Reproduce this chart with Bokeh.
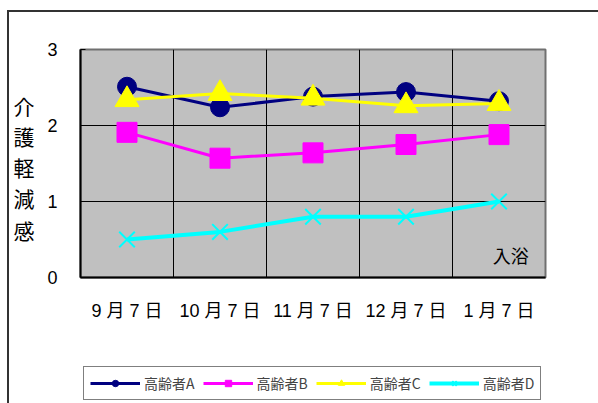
from bokeh.plotting import figure
from bokeh.embed import file_html
from bokeh.resources import INLINE
from bokeh.layouts import column
from bokeh.models import (Range1d, FixedTicker, Legend, LegendItem, Label,
                          ColumnDataSource, InlineStyleSheet, LinearAxis)

categories = ["9 月 7 日", "10 月 7 日", "11 月 7 日", "12 月 7 日", "1 月 7 日"]
series_names = ["高齢者A", "高齢者B", "高齢者C", "高齢者D"]
vals_a = [2.51, 2.24, 2.38, 2.44, 2.32]
vals_b = [1.91, 1.57, 1.64, 1.75, 1.88]
vals_c = [2.34, 2.42, 2.36, 2.26, 2.29]
vals_d = [0.5, 0.6, 0.8, 0.8, 1.0]
y_ticks = [0, 1, 2, 3]
y_title = "介護軽減感"
note = "入浴"

CJK = "Noto Sans CJK JP"
MIX = "Liberation Sans, Noto Sans CJK JP"
xs = [i + 0.5 for i in range(len(categories))]

p = figure(width=598, height=360, frame_width=465, frame_height=228,
           output_backend="svg", toolbar_location=None,
           x_range=Range1d(0, len(categories)), y_range=Range1d(0, 3),
           min_border_left=80, min_border_right=53, min_border_top=49,
           min_border_bottom=83)
p.background_fill_color = "#C0C0C0"
p.border_fill_color = "white"
p.outline_line_color = "#707070"
p.outline_line_width = 2

# axes
p.xaxis.ticker = FixedTicker(ticks=xs)
p.xaxis.major_label_overrides = {x: c for x, c in zip(xs, categories)}
p.xaxis.major_tick_line_color = None
p.xaxis.major_tick_out = 0
p.xaxis.major_tick_in = 0
p.xaxis.minor_tick_line_color = None
p.xaxis.axis_line_color = "black"
p.xaxis.axis_line_width = 2
p.xaxis.major_label_standoff = 23
p.xaxis.major_label_text_font = MIX
p.xaxis.major_label_text_font_size = "18px"
p.xaxis.major_label_text_color = "black"

p.yaxis.ticker = FixedTicker(ticks=y_ticks)
p.yaxis.major_tick_line_color = "black"
p.yaxis.major_tick_in = 5
p.yaxis.major_tick_out = 0
p.yaxis.minor_tick_line_color = None
p.yaxis.axis_line_color = "black"
p.yaxis.axis_line_width = 2
p.yaxis.major_label_standoff = 23
p.yaxis.major_label_text_font = MIX
p.yaxis.major_label_text_font_size = "18px"
p.yaxis.major_label_text_color = "black"

# y-axis title written vertically, one upright character per line
title_pos = [2.26, 1.86, 1.45, 1.04, 0.62]
title_axis = LinearAxis(ticker=FixedTicker(ticks=title_pos),
                        major_label_overrides={t: ch for t, ch in zip(title_pos, y_title)},
                        axis_line_color=None, major_tick_line_color=None,
                        minor_tick_line_color=None, major_tick_in=0, major_tick_out=0,
                        major_label_standoff=10, major_label_text_font=CJK,
                        major_label_text_font_size="21px",
                        major_label_text_color="black")
p.add_layout(title_axis, "left")

p.xgrid.ticker = FixedTicker(ticks=list(range(1, len(categories))))
p.xgrid.grid_line_color = "black"
p.xgrid.grid_line_width = 1
p.ygrid.ticker = FixedTicker(ticks=y_ticks)
p.ygrid.grid_line_color = "black"
p.ygrid.grid_line_width = 1

specs = [
    (vals_a, "#000080", "circle", 19, 3),
    (vals_b, "#FF00FF", "square", 20, 3),
    (vals_c, "#FFFF00", "triangle", 24, 3),
    (vals_d, "#00FFFF", "x", 22, 4),
]

# legend strip below the chart (own small canvas so it is never clipped);
# its renderers use the same data but lie outside this strip's visible range
q = figure(width=598, height=43, output_backend="svg", toolbar_location=None,
           x_range=Range1d(0, len(categories)), y_range=Range1d(10, 11),
           min_border=0)
q.axis.visible = False
q.grid.visible = False
q.outline_line_color = None
q.background_fill_color = "white"
q.border_fill_color = "white"

items = []
for name, (vals, color, marker, size, lw) in zip(series_names, specs):
    src = ColumnDataSource(dict(x=xs, y=vals))
    p.line("x", "y", source=src, line_color=color, line_width=lw)
    if marker == "x":
        p.scatter("x", "y", source=src, marker="x", size=size,
                  line_color=color, line_width=2)
        km = q.scatter("x", "y", source=src, marker="x", size=size,
                       line_color=color, line_width=2)
    else:
        p.scatter("x", "y", source=src, marker=marker, size=size,
                  fill_color=color, line_color=color)
        km = q.scatter("x", "y", source=src, marker=marker, size=size,
                       fill_color=color, line_color=color)
    kl = q.line("x", "y", source=src, line_color=color, line_width=lw)
    items.append(LegendItem(label=name, renderers=[kl, km]))

legend = Legend(items=items, orientation="horizontal", location=(3, 3),
                label_text_font=CJK, label_text_font_size="14px",
                glyph_width=50, glyph_height=16, label_standoff=4, spacing=8,
                padding=6, margin=0, border_line_color="black",
                border_line_width=1, background_fill_color="white",
                background_fill_alpha=1.0)
q.add_layout(legend, "center")

p.add_layout(Label(x=4.82, y=0.29, text=note, text_font=CJK,
                   text_font_size="18px", text_align="right",
                   text_baseline="middle", text_color="black"))

# outer chart border (left and top edges visible in the window)
p.stylesheets = [InlineStyleSheet(css=(
    ":host { position: relative; } "
    ":host::after { content: ''; position: absolute; left: 7px; top: 10px; "
    "right: 0; bottom: 0; border-left: 2px solid #333; "
    "border-top: 2px solid #333; pointer-events: none; }"))]
q.stylesheets = [InlineStyleSheet(css=(
    ":host { position: relative; } "
    ":host::after { content: ''; position: absolute; left: 7px; top: 0; "
    "right: 0; bottom: 0; border-left: 2px solid #333; pointer-events: none; }"))]

layout = column(p, q, spacing=0)
open("out.html", "w").write(file_html(layout, INLINE))
